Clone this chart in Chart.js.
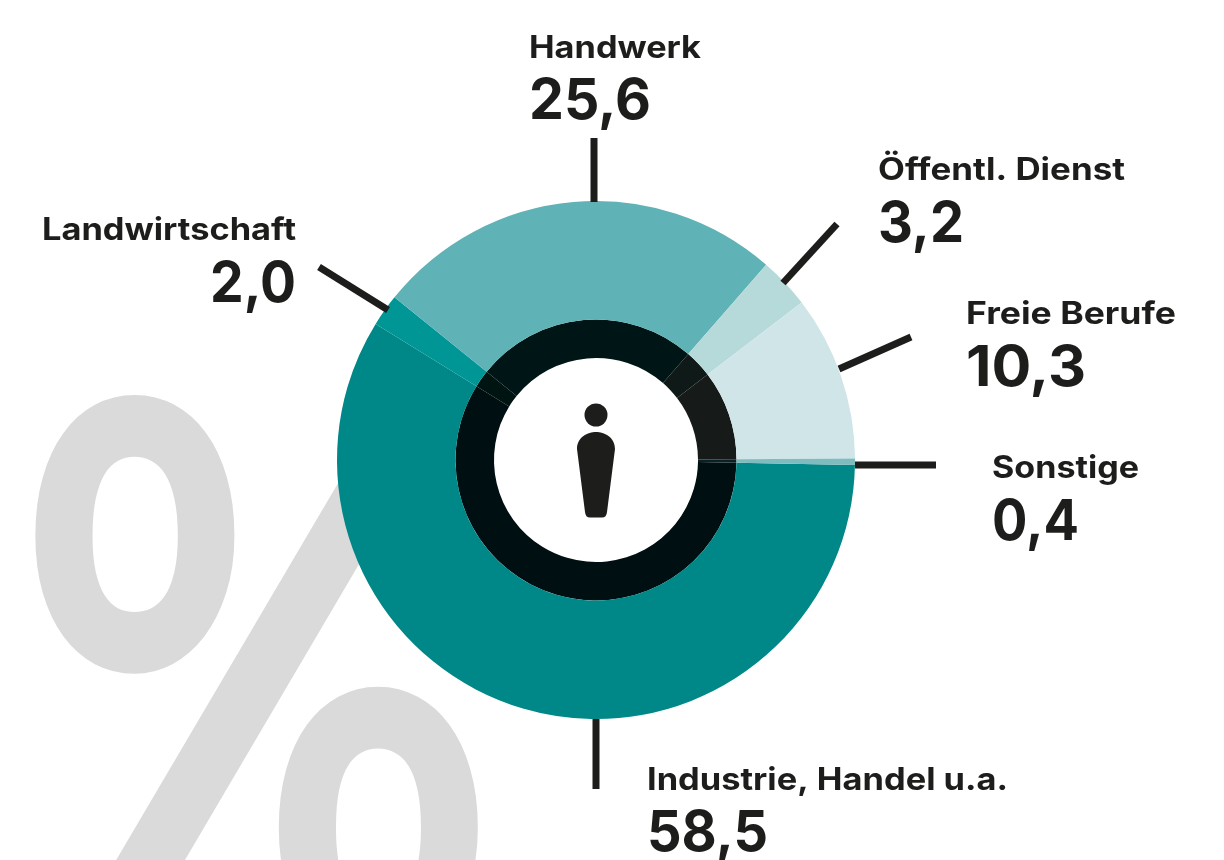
<!DOCTYPE html>
<html lang="de">
<head>
<meta charset="utf-8">
<style>
html,body{margin:0;padding:0;background:#fff;overflow:hidden}
#w{position:relative;width:1224px;height:860px}
canvas{display:block}
</style>
<script src="https://cdn.jsdelivr.net/npm/chart.js@4/dist/chart.umd.min.js"></script>
</head>
<body>
<div id="w"><canvas id="c" width="1224" height="860"></canvas></div>
<script>
const categories = ["Industrie, Handel u.a.", "Landwirtschaft", "Handwerk", "Öffentl. Dienst", "Freie Berufe", "Sonstige"];
const values = [58.5, 2.0, 25.6, 3.2, 10.3, 0.4];
const valueLabels = ["58,5", "2,0", "25,6", "3,2", "10,3", "0,4"];
const outerColors = ["#008787", "#009696", "#5fb2b6", "#b6d9da", "#d0e5e8", "#7fbcbf"];
const innerColors = ["#000f12", "#001412", "#001616", "#0f1a18", "#161b1a", "#0a2226"];

// layout of the annotations, in category order: text anchor and leader line
const labelLayout = [
  {x:647, yName:790, yVal:851, align:"left",  wName:361, wVal:121, line:[596,719,596,789]},
  {x:296, yName:240, yVal:302, align:"right", wName:254, wVal:86,  line:[319,267,388,310]},
  {x:529, yName:58,  yVal:119, align:"left",  wName:172, wVal:122, line:[594,138,594,202]},
  {x:878, yName:180, yVal:242, align:"left",  wName:247, wVal:86,  line:[783,283,837,224]},
  {x:966, yName:324, yVal:386, align:"left",  wName:210, wVal:120, line:[839,369,911,337]},
  {x:992, yName:478, yVal:540, align:"left",  wName:147, wVal:87,  line:[855,465,936,465]}
];
const INK = "#1d1d1b";
const FONT = "Inter, 'Noto Sans', sans-serif";

function fitText(ctx, str, x, y, w, align) {
  const m = ctx.measureText(str).width;
  const s = w / m;
  ctx.save();
  ctx.translate(x, y);
  ctx.scale(s, 1);
  ctx.textAlign = align;
  ctx.textBaseline = "alphabetic";
  ctx.fillText(str, 0, 0);
  ctx.restore();
}

const backdrop = {
  id: "backdrop",
  beforeDraw(chart) {
    const ctx = chart.ctx;
    ctx.save();
    ctx.fillStyle = "#dadada";
    ctx.font = "700 800px Lato, sans-serif";
    ctx.textAlign = "left";
    ctx.textBaseline = "alphabetic";
    const m = ctx.measureText("%");
    const bw = m.actualBoundingBoxRight + m.actualBoundingBoxLeft;
    const bh = m.actualBoundingBoxAscent + m.actualBoundingBoxDescent;
    const sx = 447 / bw, sy = 579 / bh;
    ctx.translate(31 + m.actualBoundingBoxLeft * sx, 392 + m.actualBoundingBoxAscent * sy);
    ctx.scale(sx, sy);
    ctx.fillText("%", 0, 0);
    ctx.restore();
  }
};

const annotations = {
  id: "annotations",
  afterDraw(chart) {
    const ctx = chart.ctx;
    ctx.save();
    ctx.strokeStyle = INK;
    ctx.fillStyle = INK;
    ctx.lineWidth = 7;
    ctx.lineCap = "butt";
    labelLayout.forEach((l, i) => {
      ctx.beginPath();
      ctx.moveTo(l.line[0], l.line[1]);
      ctx.lineTo(l.line[2], l.line[3]);
      ctx.stroke();
      ctx.font = "700 31px " + FONT;
      fitText(ctx, categories[i], l.x, l.yName, l.wName, l.align);
      ctx.font = "700 57px " + FONT;
      fitText(ctx, valueLabels[i], l.x, l.yVal, l.wVal, l.align);
    });
    // person icon in the centre
    const cx = chart.getDatasetMeta(0).data[0].x;
    ctx.beginPath();
    ctx.arc(cx, 415, 11.5, 0, Math.PI * 2);
    ctx.fill();
    ctx.beginPath();
    ctx.moveTo(cx - 19, 449);
    ctx.bezierCurveTo(cx - 19, 437, cx - 8, 432, cx, 432);
    ctx.bezierCurveTo(cx + 8, 432, cx + 19, 437, cx + 19, 449);
    ctx.lineTo(cx + 11, 512);
    ctx.quadraticCurveTo(cx + 10.5, 517.5, cx + 6, 517.5);
    ctx.lineTo(cx - 6, 517.5);
    ctx.quadraticCurveTo(cx - 10.5, 517.5, cx - 11, 512);
    ctx.closePath();
    ctx.fill();
    ctx.restore();
  }
};

new Chart(document.getElementById("c"), {
  type: "doughnut",
  data: {
    labels: categories,
    datasets: [
      {data: values, backgroundColor: outerColors, borderWidth: 0, weight: 118.5, hoverOffset: 0},
      {data: values, backgroundColor: innerColors, borderWidth: 0, weight: 38.5, hoverOffset: 0}
    ]
  },
  options: {
    responsive: false,
    animation: false,
    rotation: 91.1,
    cutout: 102,
    layout: {padding: {left: 337, right: 369, top: 201, bottom: 141}},
    plugins: {legend: {display: false}, tooltip: {enabled: false}}
  },
  plugins: [backdrop, annotations]
});
</script>
</body>
</html>
